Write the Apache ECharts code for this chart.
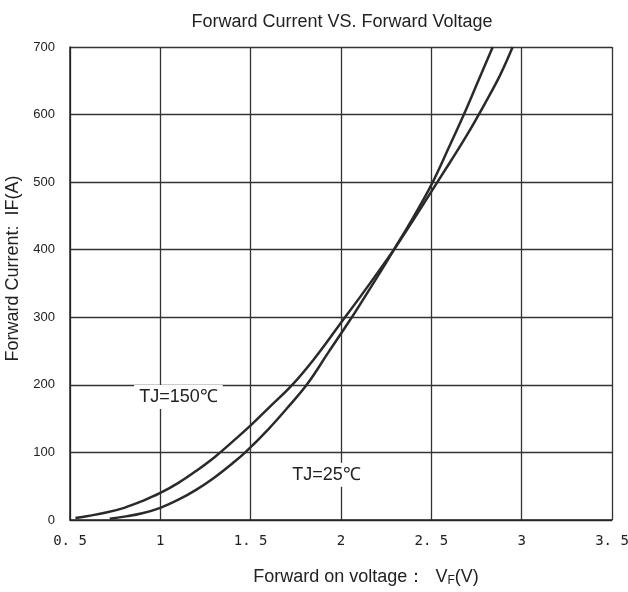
<!DOCTYPE html>
<html>
<head>
<meta charset="utf-8">
<script src="https://cdn.jsdelivr.net/npm/echarts@6/dist/echarts.min.js"></script>
<style>
  html, body { margin: 0; padding: 0; background: #fff; }
  #main { width: 628px; height: 592px; }
</style>
</head>
<body>
<div id="main"></div>
<script>
// curve points: [V, A]
const tj150 = [[0.53, 3], [0.6, 6], [0.7, 11], [0.8, 18], [0.9, 28], [1, 40], [1.1, 55], [1.2, 73],
  [1.3, 93], [1.4, 116], [1.5, 140], [1.6, 166], [1.73, 200], [1.85, 238], [2, 292], [2.1, 328],
  [2.2, 365], [2.3, 403], [2.4, 444], [2.5, 486], [2.6, 528], [2.7, 571], [2.8, 618], [2.88, 658],
  [2.95, 700]];
const tj25 = [[0.72, 2], [0.8, 5], [0.9, 10], [1, 18], [1.1, 30], [1.2, 45], [1.3, 63], [1.4, 84],
  [1.47, 100], [1.6, 135], [1.7, 165], [1.81, 200], [1.93, 248], [2.06, 300], [2.15, 338],
  [2.25, 381], [2.3, 403], [2.4, 448], [2.5, 496], [2.6, 553], [2.68, 600], [2.76, 650], [2.84, 700]];
// label anchors, in data units
const label150 = [1.1, 182];
const label25 = [1.92, 67];

const font = '"Liberation Sans", Arial, sans-serif';
const ink = '#222';

let chart = echarts.init(document.getElementById('main'));
let option = {
  backgroundColor: '#fff',
  animation: false,
  title: {
    text: 'Forward Current VS. Forward Voltage',
    left: 337, top: 8, textAlign: 'center',
    textStyle: { fontFamily: font, fontSize: 18, fontWeight: 'normal', color: ink }
  },
  grid: { left: 70, right: 16, top: 47, bottom: 72, outerBoundsMode: 'none', containLabel: false },
  xAxis: {
    type: 'value', min: 0.5, max: 3.5, interval: 0.5,
    name: '{n|Forward on voltage：  V}{s|F}{n|(V)}',
    nameLocation: 'middle', nameGap: 48,
    nameTextStyle: {
      padding: [0, 0, 0, 50],
      rich: {
        n: { fontFamily: font, fontSize: 18, color: ink },
        s: { fontFamily: font, fontSize: 12, color: ink, padding: [7, 0, 0, 0] }
      }
    },
    axisLine: { lineStyle: { color: '#222', width: 1.5 } },
    axisTick: { show: false },
    axisLabel: {
      margin: 14, fontFamily: '"DejaVu Sans Mono", monospace', fontSize: 14, color: ink,
      formatter: v => String(v).replace('.', '. ')
    },
    splitLine: { lineStyle: { color: '#333', width: 1.3 } }
  },
  yAxis: {
    type: 'value', min: 0, max: 700, interval: 100,
    name: 'Forward Current:  IF(A)',
    nameLocation: 'middle', nameGap: 47,
    nameTextStyle: { fontFamily: font, fontSize: 18, color: ink, padding: [0, 0, 0, 30] },
    axisLine: { show: true, lineStyle: { color: '#222', width: 1.5 } },
    axisTick: { show: false },
    axisLabel: { margin: 15, fontFamily: font, fontSize: 13, color: ink },
    splitLine: { lineStyle: { color: '#333', width: 1.3 } }
  },
  series: [
    {
      name: 'TJ=150℃', type: 'line', data: tj150, smooth: 0.4, showSymbol: false,
      lineStyle: { color: '#2a2a2a', width: 2.5 },
      markPoint: {
        symbol: 'rect', symbolSize: 0,
        data: [{ coord: label150 }],
        label: {
          show: true, position: 'inside', formatter: 'TJ=150℃',
          fontFamily: font, fontSize: 18, color: ink,
          backgroundColor: '#fff', padding: [3, 5]
        }
      }
    },
    {
      name: 'TJ=25℃', type: 'line', data: tj25, smooth: 0.4, showSymbol: false,
      lineStyle: { color: '#2a2a2a', width: 2.5 },
      markPoint: {
        symbol: 'rect', symbolSize: 0,
        data: [{ coord: label25 }],
        label: {
          show: true, position: 'inside', formatter: 'TJ=25℃',
          fontFamily: font, fontSize: 18, color: ink,
          backgroundColor: '#fff', padding: [3, 5]
        }
      }
    }
  ]
};
option && chart.setOption(option);
</script>
</body>
</html>
